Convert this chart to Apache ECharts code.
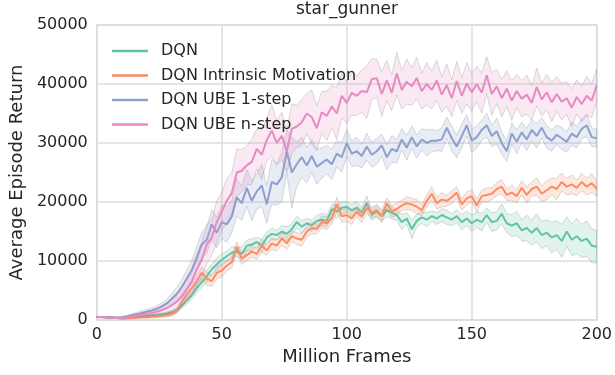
<!DOCTYPE html>
<html>
<head>
<meta charset="utf-8">
<script src="https://cdn.jsdelivr.net/npm/echarts@6/dist/echarts.min.js"></script>
<style>
  html, body { margin: 0; padding: 0; background: #ffffff; }
  #chart { width: 615px; height: 375px; }
</style>
</head>
<body>
<div id="chart"></div>
<script>
// Episode return (thousands) sampled every 2 million frames, 0..200
const STEP = 2;
const seriesNames = ['DQN', 'DQN Intrinsic Motivation', 'DQN UBE 1-step', 'DQN UBE n-step'];
const seriesColors = ['#66c2a5', '#fc8d62', '#8da0cb', '#e78ac3'];
const xTicks = [0, 50, 100, 150, 200];
const yTicks = [0, 10000, 20000, 30000, 40000, 50000];

const dqnMean = [
  0.5,0.5,0.45,0.4,0.35,0.3,0.35,0.45,0.55,0.65,
  0.7,0.8,0.85,0.95,1.05,1.3,1.6,2.4,3.3,4.2,
  5.4,6.4,7.4,8.6,9.4,10.2,10.8,11.4,11.6,11.2,
  12.6,12.8,13.2,12.6,14.0,14.6,14.4,15.0,14.6,15.4,
  16.6,15.8,16.4,16.0,16.8,17.0,16.8,18.8,18.4,19.0,
  19.2,18.6,19.0,18.2,19.8,17.8,18.4,17.6,18.6,18.2,
  17.8,16.6,17.2,15.4,16.8,17.4,17.0,17.6,17.2,17.8,
  17.4,17.0,17.6,16.6,17.2,16.4,17.0,16.6,17.8,16.6,
  16.8,18.0,16.4,16.0,16.4,15.2,15.6,14.8,15.6,14.4,
  14.8,14.0,14.4,13.4,15.0,13.6,14.2,13.4,13.8,12.6,
  12.4
];
const dqnSpread = [
  0.1,0.1,0.1,0.1,0.1,0.1,0.1,0.15,0.15,0.2,0.2,0.2,0.25,0.25,0.3,0.35,
  0.4,0.5,0.6,0.7,0.8,0.9,1.0,0.9,1.1,1.0,0.9,1.0,0.8,1.1,0.9,
  1.0,0.8,1.1,0.9,1.0,0.8,1.0,1.2,0.9,1.0,1.1,0.8,1.0,0.9,1.1,1.0,0.8,1.2,1.0,0.9,
  1.0,1.1,0.9,1.2,0.9,1.0,0.8,1.1,1.0,0.9,1.3,1.0,1.6,1.1,1.0,1.2,0.9,1.0,1.1,1.2,1.0,1.1,1.3,1.2,1.4,
  1.3,1.5,1.2,1.6,1.5,1.7,1.6,1.9,2.0,1.8,2.2,2.1,2.4,2.3,2.2,2.6,2.4,2.8,2.5,2.7,3.0,2.8,3.0,2.9,2.7
];

const imMean = [
  0.5,0.5,0.45,0.4,0.35,0.3,0.3,0.35,0.4,0.45,
  0.5,0.55,0.6,0.7,0.8,1.0,1.6,3.0,4.4,5.4,
  6.6,8.0,7.0,6.6,8.0,8.4,9.2,9.8,12.4,10.4,
  11.0,11.6,11.2,12.6,11.8,13.0,12.6,13.8,13.0,14.2,
  13.8,13.6,15.0,15.6,15.4,16.6,16.4,17.2,19.6,17.6,
  17.8,17.2,18.4,17.6,19.0,18.2,18.6,17.6,19.8,18.4,
  18.8,19.4,19.8,19.6,19.2,18.6,20.2,21.4,19.8,20.4,
  20.2,20.8,21.6,19.6,20.6,21.0,19.4,21.0,21.2,21.4,
  22.2,22.6,21.2,21.6,21.0,22.4,21.2,22.2,22.6,21.4,
  22.0,22.6,22.2,23.4,22.6,23.0,22.4,23.4,22.6,23.2,
  22.2
];
const imSpread = [
  0.1,0.1,0.1,0.1,0.1,0.1,0.1,0.1,0.15,0.15,0.2,0.2,0.2,0.25,0.3,0.35,
  0.4,0.6,0.7,0.8,0.9,1.0,1.1,0.9,1.0,1.1,0.9,1.0,0.8,1.0,0.9,
  1.0,0.9,1.1,0.8,1.0,0.9,1.1,1.0,0.9,1.0,1.1,0.9,1.0,0.8,1.0,1.1,0.9,1.2,1.0,1.1,
  1.0,0.9,1.1,1.0,0.9,1.0,1.1,0.9,1.0,1.0,0.9,1.1,1.0,1.2,0.9,1.0,1.1,1.0,1.2,0.9,1.1,1.0,1.0,1.1,1.0,
  1.1,1.0,1.2,1.0,1.1,1.2,1.0,1.3,1.1,1.2,1.4,1.2,1.5,1.3,1.6,1.4,1.8,1.5,1.4,1.6,1.3,1.5,1.4,1.6,1.3
];

const ube1Mean = [
  0.5,0.5,0.45,0.4,0.4,0.45,0.6,0.8,1.0,1.2,
  1.4,1.6,1.9,2.3,2.8,3.6,4.4,5.6,7.0,8.4,
  10.5,12.8,13.6,16.2,14.8,16.6,16.2,17.5,20.8,19.8,
  22.4,20.2,21.8,22.8,19.6,23.4,23.0,24.2,28.6,25.0,
  26.4,27.6,26.2,27.8,26.0,26.6,27.2,26.4,28.2,27.6,
  30.0,28.2,28.6,27.8,29.4,28.0,28.6,29.6,27.6,29.0,
  28.6,30.6,29.2,31.0,29.4,30.6,30.0,30.4,30.4,30.6,
  32.6,30.8,29.4,31.2,33.0,30.4,31.0,32.2,33.0,31.2,
  32.0,30.0,28.6,31.6,30.2,31.8,30.6,32.2,31.2,32.6,
  31.0,30.4,31.4,30.8,30.2,31.6,31.0,32.4,33.0,31.0,
  30.8
];
const ube1Spread = [
  0.1,0.1,0.1,0.1,0.15,0.15,0.2,0.25,0.3,0.35,0.4,0.45,0.5,0.6,0.7,0.9,
  1.1,1.3,1.5,1.7,1.9,2.1,2.3,2.5,2.6,2.8,3.0,2.7,3.2,2.9,3.1,
  3.4,3.0,3.6,3.2,3.8,3.5,4.2,3.6,6.0,3.8,3.4,3.0,2.8,3.0,2.6,2.4,2.6,2.2,2.5,2.3,
  2.2,2.4,2.0,2.3,2.1,2.2,1.9,2.1,2.3,2.0,1.8,2.1,1.9,2.0,1.8,2.2,1.9,1.7,2.0,1.8,2.1,1.9,2.0,1.8,2.0,
  1.9,1.7,2.0,1.8,2.2,1.9,1.7,1.8,2.0,1.7,1.9,1.8,2.1,1.7,1.9,1.8,1.6,1.9,1.7,2.0,1.8,1.7,1.9,1.6,1.5
];

const ubeNMean = [
  0.5,0.5,0.45,0.4,0.35,0.35,0.45,0.6,0.75,0.9,
  1.0,1.2,1.4,1.7,2.0,2.5,3.1,4.0,5.2,6.5,
  8.6,10.2,12.8,14.0,16.6,18.4,20.2,21.5,25.0,25.3,
  26.2,26.8,29.0,28.0,30.5,32.1,30.0,31.2,28.6,32.4,
  32.8,33.5,35.0,34.4,32.5,35.2,34.6,36.2,35.0,38.0,
  36.8,38.5,38.0,38.8,38.6,40.8,41.0,38.3,40.6,38.5,
  41.8,39.0,40.4,39.6,41.0,38.8,40.0,39.0,40.6,38.2,
  39.8,37.6,40.5,38.0,40.1,38.6,40.0,38.5,41.5,38.3,
  39.6,37.6,39.2,37.2,38.8,37.5,38.2,36.8,39.5,37.4,
  38.6,36.9,38.3,37.0,37.6,36.0,37.8,36.6,38.0,37.2,
  39.8
];
const ubeNSpread = [
  0.1,0.1,0.1,0.1,0.1,0.15,0.15,0.2,0.25,0.3,0.35,0.4,0.5,0.6,0.8,1.0,
  1.3,1.6,2.0,2.3,2.6,3.0,3.3,3.0,3.6,3.2,3.8,3.4,4.0,3.6,3.3,
  3.8,3.4,4.2,3.6,4.4,3.8,4.0,3.5,4.2,3.6,3.9,3.4,4.6,3.8,3.5,4.2,3.6,4.4,3.8,3.5,
  3.8,3.3,3.6,4.4,3.5,3.2,3.8,3.4,3.0,3.6,3.3,3.8,3.2,3.5,3.0,3.6,3.2,3.4,3.0,3.6,3.1,3.3,3.0,3.5,3.2,
  3.0,3.4,3.1,3.6,2.9,3.2,3.0,3.4,2.8,3.1,3.3,2.9,3.2,2.8,3.0,3.3,2.9,3.1,2.8,3.2,2.9,3.0,3.3,2.9,2.8
];

const means = [dqnMean, imMean, ube1Mean, ubeNMean];
const spreads = [dqnSpread, imSpread, ube1Spread, ubeNSpread];
const UNIT = 1000;
const FONT = 'DejaVu Sans';
const INK = '#262626';

function hexToRgba(hex, a) {
  const n = parseInt(hex.slice(1), 16);
  return 'rgba(' + ((n >> 16) & 255) + ',' + ((n >> 8) & 255) + ',' + (n & 255) + ',' + a + ')';
}

const series = [];
seriesNames.forEach(function (name, s) {
  const mean = means[s], spread = spreads[s];
  const bandData = mean.map(function (m, i) {
    return [i * STEP, (m - spread[i]) * UNIT, (m + spread[i]) * UNIT];
  });
  // confidence band drawn as one polygon
  series.push({
    type: 'custom',
    name: name + ' band',
    z: 2 + s * 2,
    silent: true,
    clip: true,
    encode: { x: 0, y: [1, 2] },
    data: bandData,
    renderItem: function (params, api) {
      if (params.dataIndex !== 0) return null;
      const pts = [];
      for (let i = 0; i < bandData.length; i++) pts.push(api.coord([bandData[i][0], bandData[i][2]]));
      for (let i = bandData.length - 1; i >= 0; i--) pts.push(api.coord([bandData[i][0], bandData[i][1]]));
      return {
        type: 'polygon',
        shape: { points: pts },
        style: { fill: hexToRgba(seriesColors[s], 0.2), stroke: 'rgba(130,130,130,0.4)', lineWidth: 0.7 }
      };
    }
  });
  series.push({
    type: 'line',
    name: name,
    z: 3 + s * 2,
    symbol: 'none',
    showSymbol: false,
    animation: false,
    lineStyle: { color: seriesColors[s], width: 2 },
    itemStyle: { color: seriesColors[s] },
    data: mean.map(function (m, i) { return [i * STEP, m * UNIT]; })
  });
});

const chart = echarts.init(document.getElementById('chart'), null, { renderer: 'canvas' });
chart.setOption({
  animation: false,
  backgroundColor: '#ffffff',
  textStyle: { fontFamily: FONT, color: INK },
  title: {
    text: 'star_gunner',
    left: 296, top: 1, padding: 0,
    textStyle: { fontFamily: FONT, fontSize: 17, fontWeight: 'normal', color: INK }
  },
  legend: {
    data: seriesNames,
    orient: 'vertical',
    left: 107, top: 37,
    z: 20,
    icon: 'rect',
    itemWidth: 36, itemHeight: 2.5, itemGap: 6.5,
    textStyle: { fontFamily: FONT, fontSize: 16, lineHeight: 18, color: INK, padding: [0, 0, 0, 8] }
  },
  grid: {
    left: 96, right: 17, top: 25, bottom: 55,
    show: true, borderColor: '#d8d8d8', borderWidth: 1.5, backgroundColor: '#ffffff'
  },
  xAxis: {
    type: 'value',
    min: xTicks[0], max: xTicks[xTicks.length - 1], interval: 50,
    name: 'Million Frames', nameLocation: 'middle', nameGap: 27,
    nameTextStyle: { fontFamily: FONT, fontSize: 18, color: INK },
    axisLine: { show: false }, axisTick: { show: false },
    axisLabel: { fontFamily: FONT, fontSize: 16, color: INK, margin: 7 },
    splitLine: { show: true, lineStyle: { color: '#dcdcdc', width: 1.5 } }
  },
  yAxis: {
    type: 'value',
    min: yTicks[0], max: yTicks[yTicks.length - 1], interval: 10000,
    name: 'Average Episode Return', nameLocation: 'middle', nameGap: 68,
    nameTextStyle: { fontFamily: FONT, fontSize: 18, color: INK },
    axisLine: { show: false }, axisTick: { show: false },
    axisLabel: { fontFamily: FONT, fontSize: 16, color: INK, margin: 9, formatter: function (v) { return String(v); } },
    splitLine: { show: true, lineStyle: { color: '#dcdcdc', width: 1.5 } }
  },
  series: series
});
</script>
</body>
</html>
